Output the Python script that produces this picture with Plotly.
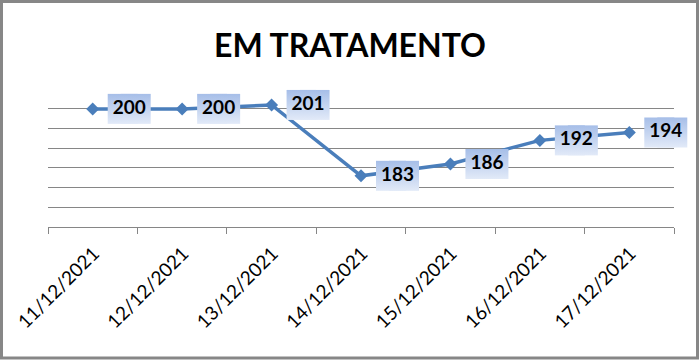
import plotly.graph_objects as go

# ---- data ----
dates = ["11/12/2021", "12/12/2021", "13/12/2021", "14/12/2021",
         "15/12/2021", "16/12/2021", "17/12/2021"]
values = [200, 200, 201, 183, 186, 192, 194]
title_text = "EM TRATAMENTO"

# ---- layout constants ----
W, H = 700, 361
L, R, T, B = 48, 26, 89, 134
PW, PH = W - L - R, H - T - B
GRID = "#868686"
LINE = "#4a7ebb"
FONT = "Lato, Liberation Sans, Arial, sans-serif"

idx = list(range(len(dates)))
lab_off = 36.5 / (PW / len(dates))        # label centre offset (categories)
half = 6.5 / (PW / len(dates))             # half of extra box width

fig = go.Figure()

fig.add_trace(go.Scatter(
    x=idx, y=values, mode="lines+markers",
    line=dict(color=LINE, width=3.5),
    marker=dict(symbol="diamond", size=10, color=LINE),
    hoverinfo="skip", showlegend=False))

# gradient label boxes (two overlapping squares form a rectangle)
for s in (-1, 1):
    fig.add_trace(go.Scatter(
        x=[i + lab_off + s * half for i in idx], y=values, mode="markers",
        marker=dict(symbol="square", size=30, color="#a6bee8",
                    gradient=dict(type="vertical", color="#e2eaf8"),
                    line=dict(width=0)),
        cliponaxis=False, hoverinfo="skip", showlegend=False))

fig.add_trace(go.Scatter(
    x=[i + lab_off for i in idx], y=values, mode="text",
    text=[f"<b>{v}</b>" for v in values],
    textfont=dict(family=FONT, size=19, color="black"),
    textposition="middle center",
    cliponaxis=False, hoverinfo="skip", showlegend=False))

fig.update_layout(
    width=W, height=H,
    margin=dict(l=L, r=R, t=T, b=B, autoexpand=False),
    paper_bgcolor="white", plot_bgcolor="white",
    title=dict(text=f"<b>{title_text}</b>", x=0.5, xanchor="center",
               y=1 - 45.5 / H, yanchor="middle", yref="container",
               font=dict(family=FONT, size=32, color="black")),
    xaxis=dict(range=[-0.5, len(dates) - 0.5], tickmode="array",
               tickvals=idx, ticktext=dates, tickangle=-45, ticks="",
               tickfont=dict(family=FONT, size=19, color="black"),
               ticklabelstandoff=7, ticklabelshift=1,
               showgrid=False, zeroline=False, automargin=False,
               showline=True, linecolor=GRID, linewidth=1,
               minor=dict(ticks="outside", ticklen=6, tickcolor=GRID,
                          tickwidth=1, tickmode="array",
                          tickvals=[i - 0.5 for i in range(len(dates) + 1)],
                          showgrid=False)),
    yaxis=dict(range=[170, 205.05], tick0=170, dtick=5, showticklabels=False,
               ticks="", showgrid=True, gridcolor=GRID, gridwidth=1,
               zeroline=False, showline=False, automargin=False),
    shapes=[dict(type="rect", xref="paper", yref="paper",
                 x0=(1.5 - L) / PW, x1=(W - 2.5 - L) / PW,
                 y0=(T + PH - (H - 3)) / PH, y1=(T + PH - 1.5) / PH,
                 line=dict(color="#878787", width=3))],
)

fig.write_html("out.html",
               config={"displayModeBar": False},
               post_script="document.body.style.margin='0px';"
                           "document.body.style.overflow='hidden';")
